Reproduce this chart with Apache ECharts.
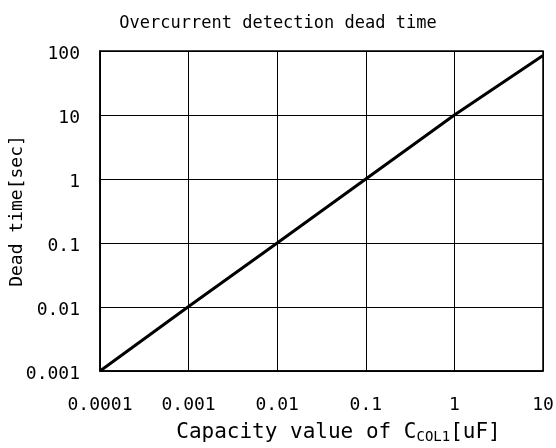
<!DOCTYPE html>
<html><head><meta charset="utf-8">
<script src="https://cdn.jsdelivr.net/npm/echarts@6/dist/echarts.min.js"></script>
<style>html,body{margin:0;padding:0;background:#fff}#c{width:556px;height:448px}</style>
</head><body><div id="c"></div>
<script>
const capacity = [0.0001, 0.001, 0.01, 0.1, 0.3, 1, 10];
const deadTime = [0.001, 0.0102, 0.1, 1, 3, 10, 85];
const xTickLabels = ['0.0001', '0.001', '0.01', '0.1', '1', '10'];
const yTickLabels = ['0.001', '0.01', '0.1', '1', '10', '100'];

const FONT = '"DejaVu Sans Mono", monospace';
function fmt(labels, v) {
  const e = Math.round(Math.log10(v));
  for (const l of labels) { if (Math.round(Math.log10(parseFloat(l))) === e) return l; }
  return '';
}
const chart = echarts.init(document.getElementById('c'), null, {renderer: 'canvas'});
chart.setOption({
  animation: false,
  title: {
    text: 'Overcurrent detection dead time', left: 'center', top: 10,
    textStyle: {fontFamily: FONT, fontSize: 17, fontWeight: 'normal', color: '#000'}
  },
  grid: {left: 100, right: 13, top: 51, bottom: 77, containLabel: false, outerBoundsMode: 'none'},
  xAxis: {
    type: 'log', logBase: 10, min: 0.0001, max: 10,
    name: '{a|Capacity value of C}{s|COL1}{a|[uF]}',
    nameLocation: 'middle', nameGap: 50, nameMoveOverlap: false,
    nameTextStyle: {
      padding: [0, 0, 0, 34],
      rich: {
        a: {fontFamily: FONT, fontSize: 21, color: '#000'},
        s: {fontFamily: FONT, fontSize: 14, color: '#000', padding: [9, 0, 0, 0]}
      }
    },
    axisLine: {lineStyle: {color: '#000', width: 1.5}},
    axisTick: {show: false},
    minorTick: {show: false},
    axisLabel: {margin: 25, fontFamily: FONT, fontSize: 18, color: '#000',
      formatter: v => fmt(xTickLabels, v)},
    splitLine: {show: true, lineStyle: {color: '#000', width: 1}}
  },
  yAxis: {
    type: 'log', logBase: 10, min: 0.001, max: 100,
    name: 'Dead time[sec]', nameLocation: 'middle', nameGap: 74, nameMoveOverlap: false,
    nameTextStyle: {fontFamily: FONT, fontSize: 18, color: '#000'},
    axisLine: {lineStyle: {color: '#000', width: 1.5}},
    axisTick: {show: false},
    axisLabel: {margin: 20, color: '#000',
      formatter: v => '{v|' + fmt(yTickLabels, v) + '}',
      rich: {v: {fontFamily: FONT, fontSize: 18, color: '#000', padding: [7, 0, 0, 0]}}},
    splitLine: {show: true, lineStyle: {color: '#000', width: 1}}
  },
  graphic: [],
  series: [{
    type: 'line', data: capacity.map((x, i) => [x, deadTime[i]]),
    showSymbol: false, lineStyle: {color: '#000', width: 3}, clip: true
  }]
});
const gr = chart.getModel().getComponent('grid').coordinateSystem.getRect();
chart.setOption({graphic: [{type: 'rect', shape: {x: gr.x, y: gr.y, width: gr.width, height: gr.height},
  style: {fill: 'none', stroke: '#000', lineWidth: 1.5}, z: 10, silent: true}]});
</script></body></html>
